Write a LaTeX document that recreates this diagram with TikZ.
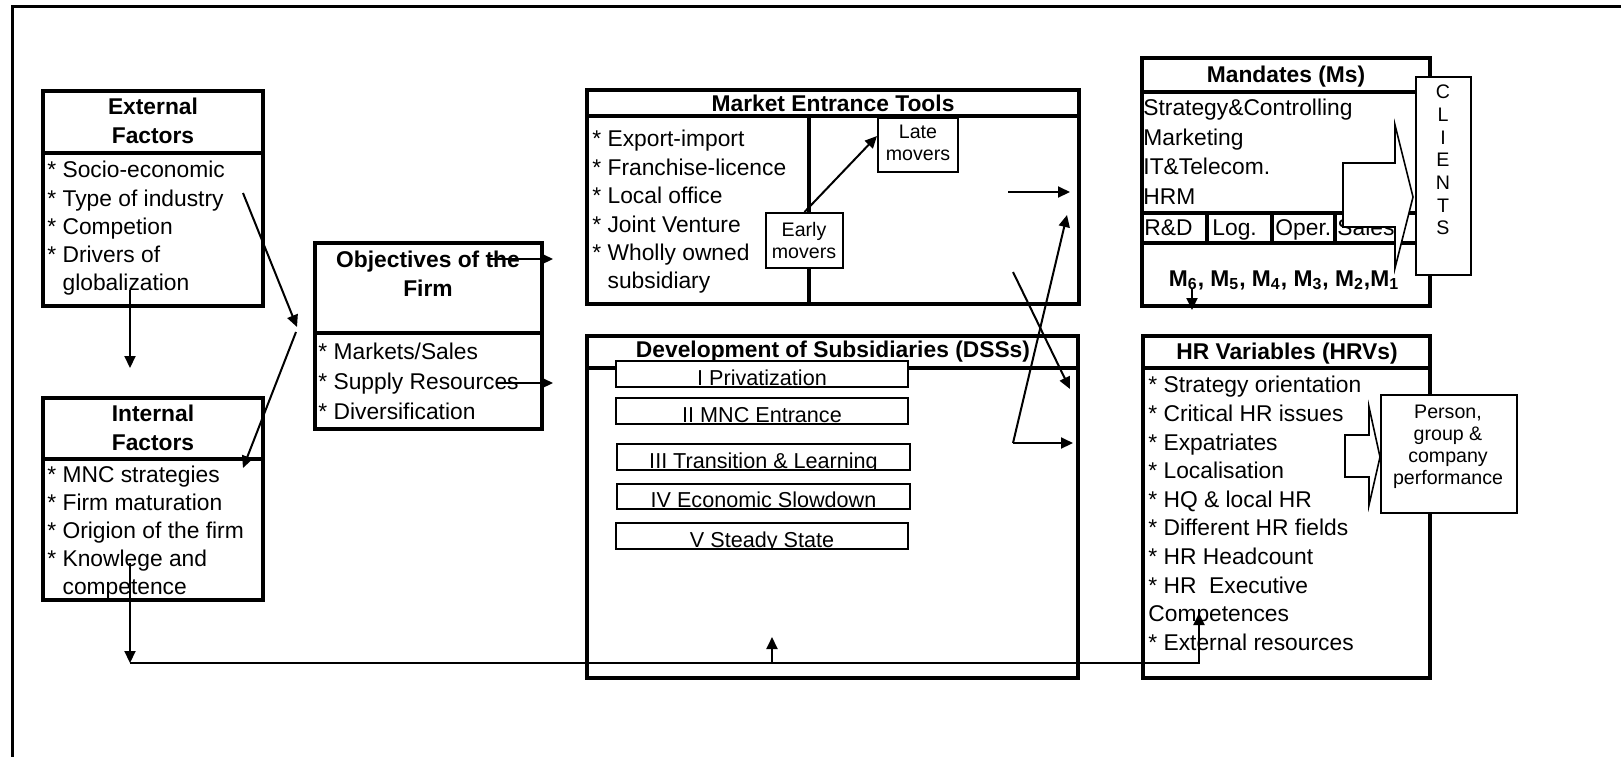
\documentclass[tikz,border=0pt]{standalone}
\usepackage{fontspec}
\setmainfont{Liberation Sans}
\usetikzlibrary{arrows.meta, fit}

\tikzset{
  bigbox/.style={draw, line width=2.2pt, inner sep=0pt},
  boxline/.style={line width=2.2pt},
  smallbox/.style={draw, fill=white, line width=1pt, inner sep=0pt},
  head/.style={font=\bfseries\fontsize{11.4}{14.5}\selectfont, align=center, inner sep=0pt},
  items/.style={font=\fontsize{11.4}{#1}\selectfont, align=left, inner sep=0pt, anchor=north west},
  cell/.style={font=\fontsize{11.4}{14}\selectfont, inner sep=0pt, anchor=base west},
  note/.style={font=\fontsize{9.8}{11}\selectfont, align=center, inner sep=0pt},
  phase/.style={draw, fill=white, line width=1.2pt, inner sep=0pt,
    path picture={\node[anchor=base, inner sep=0pt, minimum size=0pt, font=\fontsize{10.8}{13}\selectfont]
      at ([yshift=0.8pt]path picture bounding box.south) {#1};}},
  blockarrow/.style={draw, fill=white, line width=0.8pt, line join=miter},
  arr/.style={-{Triangle[length=6pt, width=5.5pt]}, line width=1pt},
}

\begin{document}
\begin{tikzpicture}[x=0.5pt, y=-0.5pt]
\useasboundingbox (0,0) rectangle (1621,757);
\draw[line width=1.5pt] (1621,6) -- (12,6) -- (12,757);

% factors
\node[bigbox, fit={(43,91) (263,306)}] (ext) {};
\draw[boxline] (43,153) -- (263,153);
\node[head] (exth) at (153,121) {External\\Factors};
\node[items=14.1pt] (extl) at (47,161) {* Socio-economic\\* Type of industry\\* Competion\\* Drivers of\\\hphantom{* }globalization};

\node[bigbox, fit={(43,398) (263,600)}] (int) {};
\draw[boxline] (43,459) -- (263,459);
\node[head] (inth) at (153,428) {Internal\\Factors};
\node[items=14pt] (intl) at (47,466) {* MNC strategies\\* Firm maturation\\* Origion of the firm\\* Knowlege and\\\hphantom{* }competence};

% objectives
\node[bigbox, fit={(315,243) (542,429)}] (obj) {};
\draw[boxline] (315,333) -- (542,333);
\node[head] (objh) at (428,274) {Objectives of the\\Firm};
\node[items=15pt] (objl) at (318,343) {* Markets/Sales\\* Supply Resources\\* Diversification};

% market entrance tools
\node[bigbox, fit={(587,90) (1079,304)}] (met) {};
\draw[boxline] (587,116) -- (1079,116);
\draw[boxline] (809,116) -- (809,304);
\node[head, anchor=base] (meth) at (833,111) {Market Entrance Tools};
\node[items=14.2pt] (metl) at (592,130) {* Export-import\\* Franchise-licence\\* Local office\\* Joint Venture\\* Wholly owned\\\hphantom{* }subsidiary};
\node[smallbox, fit={(766,213) (843,268)}] (early) {};
\node[note] (earlyt) at (804,240) {Early\\movers};
\node[smallbox, fit={(878,118) (958,172)}] (late) {};
\node[note] (latet) at (918,143) {Late\\movers};

% development of subsidiaries
\node[bigbox, fit={(587,336) (1078,678)}] (dss) {};
\draw[boxline] (587,368) -- (1078,368);
\node[head, anchor=base] (dssh) at (833,357) {Development of Subsidiaries (DSSs)};
\node[phase={I Privatization}, fit={(616,361) (908,387)}] (ph1) {};
\node[phase={II MNC Entrance}, fit={(616,398) (908,424)}] (ph2) {};
\node[phase={III Transition \& Learning}, fit={(617,444) (910,470)}] (ph3) {};
\node[phase={IV Economic Slowdown}, fit={(617,484) (910,509)}] (ph4) {};
\node[phase={V Steady State}, fit={(616,523) (908,549)}] (ph5) {};

% mandates
\node[bigbox, fit={(1142,58) (1430,306)}] (man) {};
\draw[boxline] (1142,92) -- (1430,92);
\draw[boxline] (1142,213) -- (1430,213) (1142,243) -- (1430,243);
\draw[boxline] (1207,213) -- (1207,243) (1272,213) -- (1272,243) (1335,213) -- (1335,243);
\node[head, anchor=base] (manh) at (1286,82) {Mandates (Ms)};
\node[items=14.7pt] (manl) at (1143,99) {Strategy\&Controlling\\Marketing\\IT\&Telecom.\\HRM};
\node[cell] (rd) at (1144,235) {R\&D};
\node[cell] (log) at (1212,235) {Log.};
\node[cell] (oper) at (1275,235) {Oper.};
\node[cell] (sales) at (1337,235) {Sales};
\node[head, anchor=base] (mline) at (1284,286) {M\textsubscript{6}, M\textsubscript{5}, M\textsubscript{4}, M\textsubscript{3}, M\textsubscript{2},M\textsubscript{1}};
\draw[blockarrow] (1343,163) -- (1395,163) -- (1395,125) -- (1413,197) -- (1395,268) -- (1395,227) -- (1343,227) -- cycle;
\node[smallbox, fit={(1416,77) (1471,275)}] (clients) {};
\node[note, font=\fontsize{9.8}{11.35}\selectfont] (clientst) at (1443,160) {C\\L\\I\\E\\N\\T\\S};

% HR variables
\node[bigbox, fit={(1143,336) (1430,678)}] (hrv) {};
\draw[boxline] (1143,368) -- (1430,368);
\node[head, anchor=base] (hrvh) at (1287,359) {HR Variables (HRVs)};
\node[items=14.3pt] (hrvl) at (1148,376) {* Strategy orientation\\* Critical HR issues\\* Expatriates\\* Localisation\\* HQ \& local HR\\* Different HR fields\\* HR Headcount\\* HR~ Executive\\Competences\\* External resources};
\draw[blockarrow] (1345,435) -- (1369,435) -- (1369,407) -- (1380,457) -- (1369,505) -- (1369,477) -- (1345,477) -- cycle;
\node[smallbox, fit={(1381,395) (1517,513)}] (perf) {};
\node[note] (perft) at (1448,447) {Person,\\group \&\\company\\performance};

% connectors
\coordinate (e1) at (130,290);
\coordinate (e2) at (130,368);
\coordinate (t1) at (243,193);
\coordinate (t2) at (297,327);
\coordinate (t3) at (296,332);
\coordinate (t4) at (243,468);
\coordinate (o1) at (490,259);
\coordinate (o2) at (553,259);
\coordinate (o3) at (497,383);
\coordinate (o4) at (553,383);
\coordinate (a1) at (1008,192);
\coordinate (a2) at (1070,192);
\coordinate (a3) at (1013,272);
\coordinate (a4) at (1070,389);
\coordinate (a5) at (1013,443);
\coordinate (a6) at (1067,215);
\coordinate (a7) at (1073,443);
\coordinate (m1) at (1192,288);
\coordinate (m2) at (1192,310);
\coordinate (f1) at (130,563);
\coordinate (f2) at (130,663);
\coordinate (f3) at (1199,663);
\coordinate (f4) at (1199,613);
\coordinate (f5) at (772,663);
\coordinate (f6) at (772,637);

\draw[arr] (e1) -- (e2);
\draw[arr] (t1) -- (t2);
\draw[arr] (t3) -- (t4);
\draw[arr] (o1) -- (o2);
\draw[arr] (o3) -- (o4);
\draw[arr] (early.north) -- ([yshift=4.5pt]late.west);
\draw[arr] (a1) -- (a2);
\draw[arr] (a3) -- (a4);
\draw[arr] (a5) -- (a6);
\draw[arr] (a5) -- (a7);
\draw[arr] (m1) -- (m2);
\draw[arr] (f1) -- (f2);
\draw[arr] (f2) -- (f3) -- (f4);
\draw[arr] (f5) -- (f6);
\end{tikzpicture}
\end{document}
